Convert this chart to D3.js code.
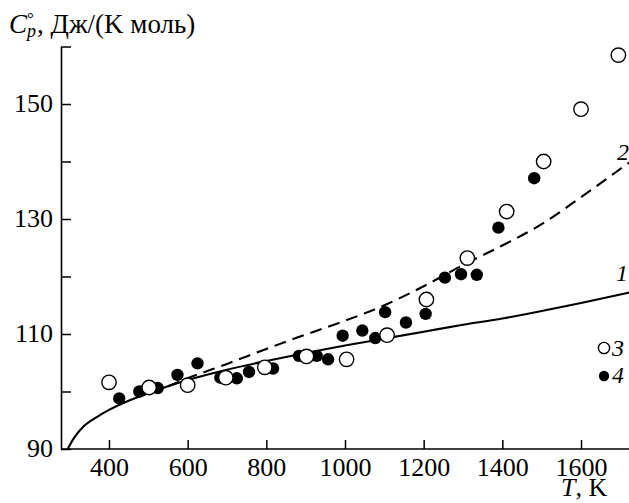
<!DOCTYPE html>
<html>
<head>
<meta charset="utf-8">
<script src="https://cdn.jsdelivr.net/npm/d3@7"></script>
<style>
  html, body { margin: 0; padding: 0; background: #fff; }
  svg { display: block; }
  text { font-family: "Liberation Serif", "DejaVu Serif", serif; fill: #000; }
</style>
</head>
<body>
<svg id="chart" width="629" height="503"></svg>
<script>
// Heat capacity Cp°(T): calculated curves 1 and 2, measured points 3 and 4
const curve1T  = [295, 310, 335, 370, 400, 450, 500, 600, 700, 800, 900, 1000, 1100, 1200, 1300, 1400, 1500, 1600, 1722];
const curve1Cp = [90.0, 91.8, 93.9, 95.6, 96.8, 98.4, 99.7, 102.0, 103.8, 105.3, 106.7, 108.0, 109.2, 110.4, 111.6, 112.7, 114.0, 115.4, 117.2];

const curve2T  = [550, 600, 700, 800, 900, 1000, 1100, 1200, 1300, 1400, 1500, 1600, 1722];
const curve2Cp = [100.9, 102.3, 104.8, 107.4, 109.9, 112.3, 115.0, 118.3, 122.0, 125.4, 129.1, 133.8, 139.8];

const set3T  = [400, 502, 600, 697, 796, 902, 1004, 1107, 1207, 1311, 1411, 1505, 1600, 1695];
const set3Cp = [101.6, 100.7, 101.1, 102.4, 104.2, 106.1, 105.6, 109.8, 116.0, 123.2, 131.3, 140.0, 149.1, 158.5];

const set4T  = [426, 477, 524, 574, 625, 683, 725, 756, 817, 883, 928, 957, 994, 1044, 1077, 1102, 1155, 1205, 1254, 1295, 1335, 1390, 1481];
const set4Cp = [98.8, 100.0, 100.6, 102.9, 104.9, 102.4, 102.3, 103.4, 104.0, 106.2, 106.2, 105.6, 109.7, 110.6, 109.3, 113.8, 112.0, 113.5, 119.8, 120.4, 120.3, 128.5, 137.1];

const xTicks = [400, 600, 800, 1000, 1200, 1400, 1600];
const yTicks = [90, 100, 110, 120, 130, 140, 150, 160];
const yLabelled = [90, 110, 130, 150];

const svg = d3.select("#chart");
const x = d3.scaleLinear().domain([278, 1722]).range([61, 629]);
const y = d3.scaleLinear().domain([90, 160]).range([449, 46.5]);

// axes
const xAxis = d3.axisBottom(x).tickValues(xTicks).tickSizeInner(-9).tickSizeOuter(0)
  .tickFormat(d3.format("d"));
const gx = svg.append("g").attr("transform", `translate(0,${y(90)})`).call(xAxis);
gx.select(".domain").attr("stroke-width", 1.6).attr("d", `M${x.range()[0]},0H${x.range()[1]}`);
gx.selectAll(".tick line").attr("stroke-width", 1.5);
gx.selectAll(".tick text").attr("y", 27).attr("dy", 0)
  .style("font-size", "26px").style("font-family", "Liberation Serif");

const yAxis = d3.axisLeft(y).tickValues(yTicks).tickSizeInner(-10).tickSizeOuter(0)
  .tickFormat(d => yLabelled.includes(d) ? d : "");
const gy = svg.append("g").attr("transform", `translate(${x(278)},0)`).call(yAxis);
gy.select(".domain").attr("stroke-width", 1.6);
gy.selectAll(".tick line").attr("stroke-width", 1.5);
gy.selectAll(".tick text").attr("x", -8).attr("dy", 0).attr("y", 7)
  .style("font-size", "26px").style("font-family", "Liberation Serif");

// curves
const line = d3.line().x(d => x(d[0])).y(d => y(d[1])).curve(d3.curveMonotoneX);
const plot = svg.append("g");
plot.append("path")
  .datum(d3.zip(curve1T, curve1Cp))
  .attr("d", line).attr("fill", "none").attr("stroke", "#000").attr("stroke-width", 2.1);
plot.append("path")
  .datum(d3.zip(curve2T, curve2Cp))
  .attr("d", line).attr("fill", "none").attr("stroke", "#000").attr("stroke-width", 2.1)
  .attr("stroke-dasharray", "12,7");

// measured points: filled first, open on top
plot.append("g").selectAll("circle")
  .data(d3.zip(set4T, set4Cp)).join("circle")
  .attr("cx", d => x(d[0])).attr("cy", d => y(d[1])).attr("r", 6.2).attr("fill", "#000");
plot.append("g").selectAll("circle")
  .data(d3.zip(set3T, set3Cp)).join("circle")
  .attr("cx", d => x(d[0])).attr("cy", d => y(d[1])).attr("r", 7.2)
  .attr("fill", "#fff").attr("stroke", "#000").attr("stroke-width", 1.4);

// curve labels
svg.append("text").attr("x", 617).attr("y", 160).style("font-size", "24px").style("font-style", "italic").text("2");
svg.append("text").attr("x", 616).attr("y", 281).style("font-size", "24px").style("font-style", "italic").text("1");

// legend
svg.append("circle").attr("cx", 604).attr("cy", 348).attr("r", 5.6)
  .attr("fill", "#fff").attr("stroke", "#000").attr("stroke-width", 1.4);
svg.append("text").attr("x", 612).attr("y", 356).style("font-size", "24px").style("font-style", "italic").text("3");
svg.append("circle").attr("cx", 604).attr("cy", 376).attr("r", 5.2).attr("fill", "#000");
svg.append("text").attr("x", 612).attr("y", 383).style("font-size", "24px").style("font-style", "italic").text("4");

// y-axis title: C with stacked ° and subscript p
const yt = svg.append("text").attr("x", 9).attr("y", 33).style("font-size", "27px");
yt.append("tspan").style("font-style", "italic").text("C");
yt.append("tspan").attr("x", 27).attr("y", 24).style("font-size", "17px").text("°");
yt.append("tspan").attr("x", 27).attr("y", 37).style("font-size", "18px").style("font-style", "italic").text("p");
yt.append("tspan").attr("x", 37).attr("y", 33).text(", Дж/(K моль)");

const xt = svg.append("text").attr("x", 561).attr("y", 496).style("font-size", "26px");
xt.append("tspan").style("font-style", "italic").text("T");
xt.append("tspan").text(", K");
</script>
</body>
</html>
